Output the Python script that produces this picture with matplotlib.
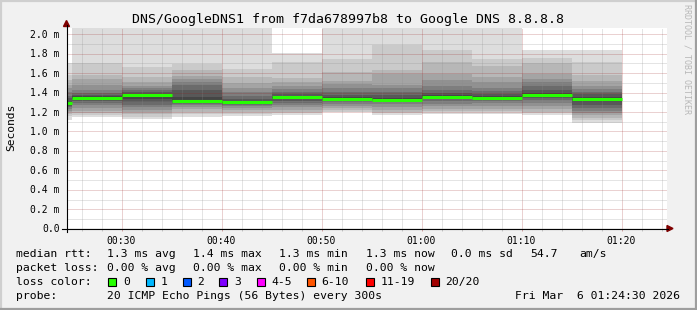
import math
import matplotlib
matplotlib.use("Agg")
import matplotlib.pyplot as plt
from matplotlib.patches import Rectangle, Polygon
from matplotlib.lines import Line2D
from matplotlib.ticker import MultipleLocator

W, H = 697, 310

# 5 minute steps (end time of each step), first one is only partly visible
step_end = ["00:25", "00:30", "00:35", "00:40", "00:45", "00:50",
            "00:55", "01:00", "01:05", "01:10", "01:15", "01:20"]
median_ms = [1.285, 1.342, 1.368, 1.308, 1.293, 1.345,
             1.332, 1.318, 1.350, 1.342, 1.365, 1.328]
# 20 sorted pings per step (ms)
pings_ms = [
    [1.11, 1.15, 1.17, 1.19, 1.21, 1.23, 1.25, 1.26, 1.27, 1.28, 1.29, 1.31, 1.34, 1.36, 1.40, 1.44, 1.47, 1.52, 1.58, 1.70],
    [1.14, 1.16, 1.18, 1.21, 1.24, 1.27, 1.29, 1.31, 1.33, 1.34, 1.345, 1.36, 1.37, 1.39, 1.42, 1.47, 1.53, 1.58, 1.70, 2.30],
    [1.12, 1.14, 1.17, 1.19, 1.22, 1.25, 1.27, 1.30, 1.33, 1.36, 1.375, 1.38, 1.40, 1.42, 1.44, 1.46, 1.50, 1.55, 1.66, 2.30],
    [1.14, 1.17, 1.20, 1.23, 1.25, 1.27, 1.28, 1.29, 1.30, 1.305, 1.31, 1.35, 1.42, 1.47, 1.50, 1.53, 1.57, 1.63, 1.69, 2.30],
    [1.15, 1.17, 1.20, 1.22, 1.24, 1.26, 1.27, 1.28, 1.285, 1.29, 1.30, 1.31, 1.33, 1.36, 1.40, 1.44, 1.49, 1.55, 1.64, 2.30],
    [1.16, 1.18, 1.20, 1.22, 1.25, 1.27, 1.29, 1.31, 1.33, 1.34, 1.35, 1.36, 1.38, 1.40, 1.43, 1.46, 1.50, 1.54, 1.71, 1.80],
    [1.19, 1.20, 1.22, 1.24, 1.26, 1.28, 1.30, 1.31, 1.32, 1.33, 1.335, 1.35, 1.37, 1.40, 1.44, 1.48, 1.51, 1.61, 1.74, 2.30],
    [1.16, 1.18, 1.20, 1.22, 1.25, 1.28, 1.30, 1.31, 1.315, 1.32, 1.325, 1.34, 1.37, 1.40, 1.44, 1.47, 1.59, 1.63, 1.88, 2.30],
    [1.17, 1.19, 1.21, 1.23, 1.26, 1.28, 1.31, 1.33, 1.34, 1.35, 1.355, 1.37, 1.39, 1.42, 1.46, 1.52, 1.59, 1.71, 1.83, 2.30],
    [1.17, 1.19, 1.21, 1.23, 1.26, 1.29, 1.31, 1.33, 1.34, 1.345, 1.35, 1.36, 1.38, 1.41, 1.44, 1.50, 1.55, 1.67, 1.74, 2.30],
    [1.165, 1.18, 1.20, 1.23, 1.26, 1.29, 1.32, 1.34, 1.35, 1.36, 1.37, 1.39, 1.42, 1.46, 1.50, 1.53, 1.59, 1.70, 1.75, 1.83],
    [1.085, 1.11, 1.13, 1.16, 1.18, 1.21, 1.24, 1.27, 1.30, 1.32, 1.33, 1.35, 1.38, 1.40, 1.43, 1.46, 1.51, 1.58, 1.71, 1.83],
]
x_labels = ["00:30", "00:40", "00:50", "01:00", "01:10", "01:20"]
y_values = [0.0, 0.2, 0.4, 0.6, 0.8, 1.0, 1.2, 1.4, 1.6, 1.8, 2.0]
y_labels = ["0.0", "0.2 m", "0.4 m", "0.6 m", "0.8 m", "1.0 m",
            "1.2 m", "1.4 m", "1.6 m", "1.8 m", "2.0 m"]
loss_labels = ["0", "1", "2", "3", "4-5", "6-10", "11-19", "20/20"]
loss_colors = ["#26ff00", "#00b8ff", "#0059ff", "#7e00ff",
               "#ff00ff", "#ff5500", "#ff0000", "#a10000"]
stats_rtt = ["1.3 ms avg", "1.4 ms max", "1.3 ms min", "1.3 ms now", "0.0 ms sd", "54.7", "am/s"]
stats_loss = ["0.00 % avg", "0.00 % max", "0.00 % min", "0.00 % now"]


def to_min(s):
    h, m = s.split(":")
    return int(h) * 60 + int(m)


def fx(x):
    return x / W


def fy(y):
    return 1 - y / H


MONO = "DejaVu Sans Mono"
plt.rcParams["font.family"] = MONO

fig = plt.figure(figsize=(W / 100, H / 100), dpi=100, facecolor="#f1f1f1")

# plot area 600x200 px
left, top, pw, ph = 66.5, 28.3, 600, 200
ax = fig.add_axes([fx(left), fy(top + ph), pw / W, ph / H])
ax.set_facecolor("white")
ax.set_xlim(24.5, 84.5)
ax.set_ylim(0, 2.055)

ends = [to_min(s) for s in step_end]
starts = [e - 5 for e in ends]
edges = starts + [ends[-1]]

# smoke: pairs of pings, outer ones light, inner ones dark
for k in range(10):
    g = int(190 / 10 * (10 - (k + 1))) + 50
    col = "#%02x%02x%02x" % (g, g, g)
    lo = [p[k] for p in pings_ms]
    hi = [p[19 - k] for p in pings_ms]
    ax.fill_between(edges, lo + [lo[-1]], hi + [hi[-1]], step="post",
                    color=col, lw=0, zorder=1 + k * 0.01)

# median drawn as flat bars per step (no vertical joins)
ax.hlines(median_ms, starts, ends, color="#26ff00", lw=2.2, zorder=4)

minor_col = (0.55, 0.55, 0.55, 0.45)
major_col = (0.6, 0.1, 0.1, 0.4)
dots = (0, (1, 1))

to_px = ax.transData
from_px = ax.transData.inverted()

# vertical grid every 2 min, red every 10 min
for m in range(26, 85, 2):
    ax.axvline(m, color=major_col if m % 10 == 0 else minor_col, ls=dots,
               lw=0.72, zorder=2.5)

# horizontal grid, snapped to pixel rows like rrdtool does
for i in range(1, 21):
    v = i * 0.1
    ypx = to_px.transform((30, v))[1]
    ypx = math.floor(ypx) + 0.5
    vs = from_px.transform((30, ypx))[1]
    ax.axhline(vs, color=major_col if i % 2 == 0 else minor_col, ls=dots,
               lw=0.72, zorder=2.5)

ax.xaxis.set_minor_locator(MultipleLocator(2))
ax.set_xticks([to_min(s) for s in x_labels])
ax.set_xticklabels(x_labels)
ax.set_yticks(y_values)
ax.set_yticklabels(y_labels)
ax.tick_params(axis="x", which="major", length=2.5, width=0.72, color="#d0a0a0",
               pad=3, labelsize=7)
ax.tick_params(axis="x", which="minor", length=2, width=0.72, color="#c4c4c4")
ax.tick_params(axis="y", which="both", length=0, pad=5, labelsize=7)
for s in ax.spines.values():
    s.set_visible(False)

# axis lines with arrows
fig.add_artist(Line2D([fx(62), fx(668)], [fy(228.5), fy(228.5)], color="black", lw=0.8))
fig.add_artist(Line2D([fx(66.5), fx(66.5)], [fy(232), fy(25)], color="black", lw=0.8))
fig.add_artist(Polygon([[fx(667), fy(225.5)], [fx(673), fy(228.5)], [fx(667), fy(231.5)]],
                       closed=True, color="#7f0000", transform=fig.transFigure))
fig.add_artist(Polygon([[fx(63.5), fy(26.5)], [fx(66.5), fy(20.5)], [fx(69.5), fy(26.5)]],
                       closed=True, color="#7f0000", transform=fig.transFigure))

fig.text(fx(347.7), fy(19.5), "DNS/GoogleDNS1 from f7da678997b8 to Google DNS 8.8.8.8",
         ha="center", va="center", fontsize=9.5)
fig.text(fx(11), fy(127), "Seconds", rotation=90, ha="center", va="center", fontsize=8.1)
fig.text(fx(687), fy(4), "RRDTOOL / TOBI OETIKER", rotation=270, ha="center", va="top",
         fontsize=6, color="#b8b8b8")

# legend
fs = 8.2
fig.text(fx(16), fy(254.3), "median rtt:", va="center", fontsize=fs)
for xp, t in zip([107, 193, 279, 365.7, 451, 530, 579.3], stats_rtt):
    fig.text(fx(xp), fy(254.3), t, va="center", fontsize=fs)
fig.text(fx(16), fy(268), "packet loss:", va="center", fontsize=fs)
for xp, t in zip([107, 193, 279, 365.7], stats_loss):
    fig.text(fx(xp), fy(268), t, va="center", fontsize=fs)
fig.text(fx(16), fy(282), "loss color:", va="center", fontsize=fs)
box_x = [108.3, 145.7, 182.7, 219.3, 256.7, 306.7, 365.7, 430.7]
for bx, lab, col in zip(box_x, loss_labels, loss_colors):
    fig.add_artist(Rectangle((fx(bx), fy(286.3)), 8 / W, 8 / H, facecolor=col,
                             edgecolor="black", lw=0.8, transform=fig.transFigure))
    fig.text(fx(bx + 14.5), fy(282), lab, va="center", fontsize=fs)
fig.text(fx(16), fy(296), "probe:", va="center", fontsize=fs)
fig.text(fx(107), fy(296), "20 ICMP Echo Pings (56 Bytes) every 300s", va="center", fontsize=fs)
fig.text(fx(680), fy(296), "Fri Mar  6 01:24:30 2026", va="center", ha="right", fontsize=fs)

# 3d frame
fig.add_artist(Line2D([0, 1], [fy(0.8), fy(0.8)], color="#cfcfcf", lw=1.6))
fig.add_artist(Line2D([fx(0.8), fx(0.8)], [0, 1], color="#cfcfcf", lw=1.6))
fig.add_artist(Line2D([0, 1], [fy(309), fy(309)], color="#9e9e9e", lw=1.6))
fig.add_artist(Line2D([fx(696), fx(696)], [0, 1], color="#9e9e9e", lw=1.6))

fig.savefig("out.png", dpi=100, facecolor=fig.get_facecolor())
